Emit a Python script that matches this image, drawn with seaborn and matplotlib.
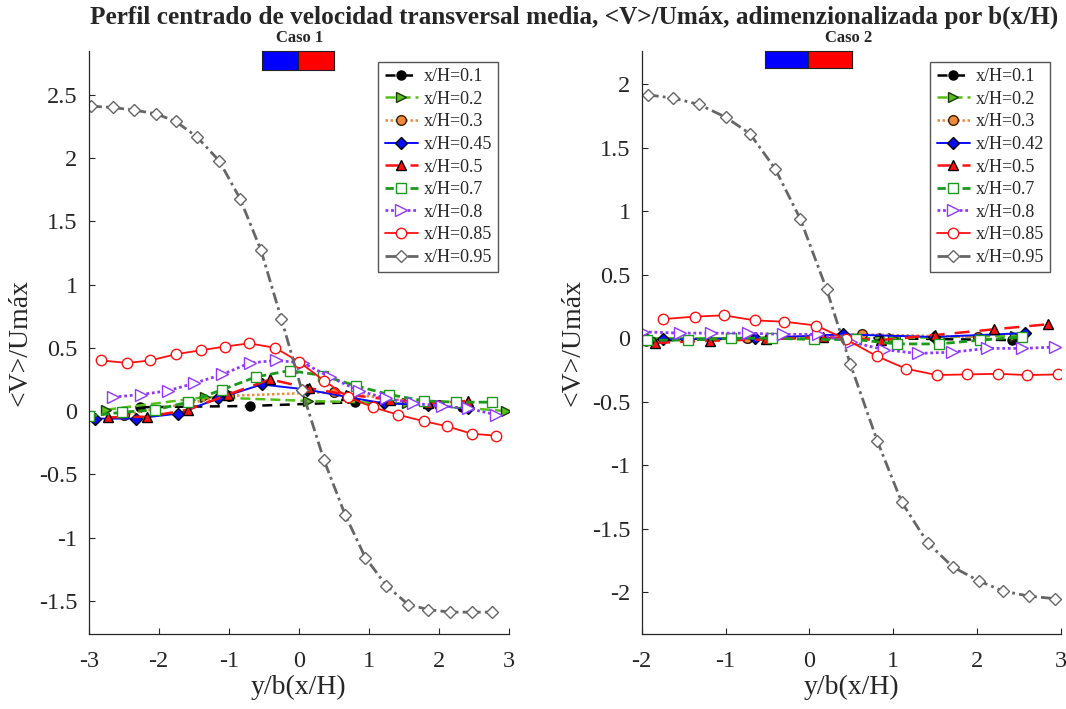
import numpy as np
import pandas as pd
import matplotlib
matplotlib.use("Agg")
import matplotlib.pyplot as plt
import seaborn as sns

# ---------------- data: Caso 1 ----------------
labels_c1 = ["x/H=0.1", "x/H=0.2", "x/H=0.3", "x/H=0.45", "x/H=0.5",
             "x/H=0.7", "x/H=0.8", "x/H=0.85", "x/H=0.95"]

c1_x01 = [-2.27, -0.70, 0.80, 2.33]
c1_y01 = [0.03, 0.04, 0.07, 0.03]
c1_x02 = [-2.75, -1.34, 0.13, 1.55, 2.95]
c1_y02 = [0.01, 0.11, 0.08, 0.06, 0.0]
c1_x03 = [-2.5, -1.0, 0.5, 2.0]
c1_y03 = [-0.03, 0.12, 0.15, 0.05]
c1_x045 = [-2.91, -2.33, -1.72, -1.15, -0.53, 0.11, 0.70, 1.22, 1.85, 2.42]
c1_y045 = [-0.06, -0.06, -0.02, 0.10, 0.21, 0.17, 0.11, 0.06, 0.05, 0.02]
c1_x05 = [-2.72, -2.17, -1.58, -1.01, -0.41, 0.15, 0.68, 1.30, 1.85, 2.42]
c1_y05 = [-0.05, -0.045, 0.01, 0.13, 0.25, 0.18, 0.13, 0.09, 0.06, 0.08]
c1_x07 = [-3.0, -2.53, -2.05, -1.58, -1.09, -0.61, -0.13, 0.35, 0.81, 1.29, 1.79, 2.25, 2.75]
c1_y07 = [-0.04, -0.01, 0.01, 0.07, 0.17, 0.27, 0.32, 0.28, 0.20, 0.13, 0.08, 0.07, 0.07]
c1_x08 = [-2.65, -2.26, -1.87, -1.49, -1.09, -0.70, -0.32, 0.06, 0.44, 0.86, 1.25, 1.63, 2.04, 2.42, 2.82]
c1_y08 = [0.11, 0.13, 0.16, 0.22, 0.29, 0.38, 0.40, 0.38, 0.27, 0.16, 0.10, 0.06, 0.04, 0.02, -0.03]
c1_x085 = [-2.82, -2.45, -2.12, -1.75, -1.40, -1.05, -0.71, -0.34, 0.0, 0.36, 0.70, 1.06, 1.42, 1.78, 2.11, 2.47, 2.82]
c1_y085 = [0.40, 0.38, 0.40, 0.45, 0.48, 0.51, 0.535, 0.50, 0.39, 0.24, 0.11, 0.03, -0.03, -0.08, -0.12, -0.18, -0.195]
c1_x095 = [-2.97, -2.66, -2.36, -2.04, -1.76, -1.46, -1.14, -0.84, -0.54, -0.25, 0.04, 0.36, 0.66, 0.95,
           1.25, 1.56, 1.85, 2.16, 2.47, 2.76]
c1_y095 = [2.41, 2.40, 2.38, 2.35, 2.29, 2.17, 1.98, 1.68, 1.27, 0.73, 0.17, -0.39, -0.82, -1.16,
           -1.38, -1.53, -1.57, -1.59, -1.59, -1.59]

# ---------------- data: Caso 2 ----------------
labels_c2 = ["x/H=0.1", "x/H=0.2", "x/H=0.3", "x/H=0.42", "x/H=0.5",
             "x/H=0.7", "x/H=0.8", "x/H=0.85", "x/H=0.95"]

c2_x01 = [-1.95, -0.73, 0.83, 2.41]
c2_y01 = [-0.02, 0.0, 0.0, -0.015]
c2_x02 = [-1.9, -0.45, 1.0, 2.45]
c2_y02 = [0.0, 0.0, 0.0, 0.02]
c2_x03 = [-0.75, 0.63, 2.01]
c2_y03 = [0.0, 0.03, 0.01]
c2_x042 = [-1.75, -0.65, 0.40, 1.48, 2.57]
c2_y042 = [-0.01, 0.0, 0.03, 0.01, 0.04]
c2_x05 = [-1.84, -1.19, -0.52, 0.16, 0.85, 1.50, 2.20, 2.85]
c2_y05 = [-0.037, -0.02, -0.01, 0.01, -0.015, 0.025, 0.07, 0.11]
c2_x07 = [-1.94, -1.45, -0.94, -0.45, 0.05, 0.55, 1.04, 1.54, 2.04, 2.53]
c2_y07 = [-0.015, -0.015, 0.0, 0.0, -0.01, -0.01, -0.045, -0.045, -0.015, 0.01]
c2_x08 = [-1.98, -1.545, -1.17, -0.73, -0.32, 0.10, 0.50, 0.89, 1.29, 1.70, 2.12, 2.53, 2.93]
c2_y08 = [0.05, 0.04, 0.04, 0.04, 0.03, 0.03, -0.03, -0.09, -0.12, -0.11, -0.08, -0.08, -0.07]
c2_x085 = [-1.75, -1.37, -1.02, -0.65, -0.30, 0.08, 0.44, 0.80, 1.15, 1.52, 1.88, 2.25, 2.59, 2.97]
c2_y085 = [0.15, 0.17, 0.18, 0.14, 0.13, 0.10, -0.01, -0.14, -0.24, -0.29, -0.285, -0.28, -0.29, -0.285]
c2_x095 = [-1.93, -1.625, -1.32, -1.00, -0.71, -0.41, -0.11, 0.205, 0.486, 0.81, 1.10, 1.41, 1.71,
           2.02, 2.31, 2.62, 2.93]
c2_y095 = [1.915, 1.89, 1.84, 1.74, 1.61, 1.335, 0.94, 0.385, -0.20, -0.81, -1.29, -1.61, -1.80,
           -1.91, -1.99, -2.03, -2.05]

# ---------------- styles per station ----------------
LIME = "#55C01A"
ORANGE = "#F0883E"
GREEN = "#1A9A1A"
PURPLE = "#9038FF"
GRAY = "#666666"

styles = [
    dict(color="black", ls=(0, (4, 3)), lw=1.8, marker="o", mfc="black", mec="black", ms=6.5),
    dict(color=LIME, ls=(0, (4, 2)), lw=1.8, marker=">", mfc=LIME, mec="#1a3a00", ms=7),
    dict(color=ORANGE, ls=(0, (1, 1)), lw=1.8, marker="o", mfc=ORANGE, mec="#3a2000", ms=7),
    dict(color="#0A0AFF", ls="-", lw=1.4, marker="D", mfc="#0A0AFF", mec="black", ms=6),
    dict(color="#FF1010", ls=(0, (6, 4)), lw=1.8, marker="^", mfc="#FF1010", mec="black", ms=7),
    dict(color=GREEN, ls=(0, (3, 1.5)), lw=2.0, marker="s", mfc="white", mec=GREEN, ms=7),
    dict(color=PURPLE, ls=(0, (1, 1)), lw=2.0, marker=">", mfc="white", mec=PURPLE, ms=8),
    dict(color="#FF1010", ls="-", lw=1.3, marker="o", mfc="white", mec="#FF1010", ms=7.5),
    dict(color=GRAY, ls=(0, (4, 1.5, 1, 1.5)), lw=2.0, marker="D", mfc="white", mec=GRAY, ms=6.5),
]

case1 = [(c1_x01, c1_y01), (c1_x02, c1_y02), (c1_x03, c1_y03), (c1_x045, c1_y045), (c1_x05, c1_y05),
         (c1_x07, c1_y07), (c1_x08, c1_y08), (c1_x085, c1_y085), (c1_x095, c1_y095)]
case2 = [(c2_x01, c2_y01), (c2_x02, c2_y02), (c2_x03, c2_y03), (c2_x042, c2_y042), (c2_x05, c2_y05),
         (c2_x07, c2_y07), (c2_x08, c2_y08), (c2_x085, c2_y085), (c2_x095, c2_y095)]

sns.set_theme(style="ticks")
plt.rcParams["font.family"] = ["Liberation Serif", "DejaVu Serif"]
plt.rcParams["axes.unicode_minus"] = False

fig = plt.figure(figsize=(10.66, 7.09), dpi=100)
ax1 = fig.add_axes([0.0832, 0.1054, 0.3943, 0.8226])
ax2 = fig.add_axes([0.6020, 0.1054, 0.3933, 0.8226])


def draw_case(ax, series, labels):
    for (xs, ys), lab, st in zip(series, labels, styles):
        df = pd.DataFrame({"x": xs, "y": ys})
        sns.lineplot(data=df, x="x", y="y", ax=ax, sort=False, errorbar=None,
                     color=st["color"], linestyle=st["ls"], linewidth=st["lw"],
                     marker=st["marker"], markerfacecolor=st["mfc"],
                     markeredgecolor=st["mec"], markersize=st["ms"],
                     markeredgewidth=1.0, label=lab)
    leg = ax.legend(loc="upper right", fontsize=13, frameon=True, fancybox=False,
                    edgecolor="#555555", framealpha=1, handlelength=1.85,
                    handletextpad=0.3, labelspacing=0.31, borderpad=0.35,
                    borderaxespad=0.6)
    leg.get_frame().set_linewidth(1.0)
    sns.despine(ax=ax)
    for sp in ("left", "bottom"):
        ax.spines[sp].set_color("#262626")
        ax.spines[sp].set_linewidth(0.9)
    ax.tick_params(direction="in", length=4, width=0.8, labelsize=17.5, colors="#262626")
    ax.tick_params(axis="x", pad=12)
    ax.tick_params(axis="y", pad=8)
    ax.set_xlabel("y/b(x/H)", fontsize=20, labelpad=2)
    ax.set_ylabel("<V>/Umáx", fontsize=20, labelpad=5)
    ax.grid(False)


draw_case(ax1, case1, labels_c1)
draw_case(ax2, case2, labels_c2)

ax1.set_xlim(-3, 3)
ax1.set_ylim(-1.765, 2.846)
ax1.set_xticks(np.arange(-3, 3.01, 1))
ax1.set_yticks(np.arange(-1.5, 2.51, 0.5))
ax2.set_xlim(-2, 3)
ax2.set_ylim(-2.33, 2.26)
ax2.set_xticks(np.arange(-2, 3.01, 1))
ax2.set_yticks(np.arange(-2, 2.01, 0.5))
for ax in (ax1, ax2):
    ax.set_xticklabels([f"{v:g}" for v in ax.get_xticks()])
    ax.set_yticklabels([f"{v:g}" for v in ax.get_yticks()])

# case headers and small blue/red swatches
fig.text(0.281, 0.946, "Caso 1", ha="center", va="center", fontsize=12, fontweight="bold")
fig.text(0.796, 0.946, "Caso 2", ha="center", va="center", fontsize=12, fontweight="bold")
for (x0, w, y0, h) in [(0.2458, 0.0675, 0.9006, 0.0268), (0.7176, 0.0816, 0.9034, 0.0240)]:
    sw = fig.add_axes([x0, y0, w, h])
    sw.imshow(np.array([[0, 1]]), cmap=matplotlib.colors.ListedColormap(["#0000FF", "#FF0000"]),
              aspect="auto", extent=(0, 2, 0, 1))
    sw.axvline(1, color="#202020", lw=0.8)
    sw.set_xticks([])
    sw.set_yticks([])
    for sp in sw.spines.values():
        sp.set_visible(True)
        sp.set_color("#202020")
        sp.set_linewidth(0.8)

fig.text(0.539, 0.975, "Perfil centrado de velocidad transversal media, <V>/Umáx, adimenzionalizada por b(x/H)",
         ha="center", va="center", fontsize=18.2, fontweight="bold")

fig.savefig("out.png", dpi=100)
